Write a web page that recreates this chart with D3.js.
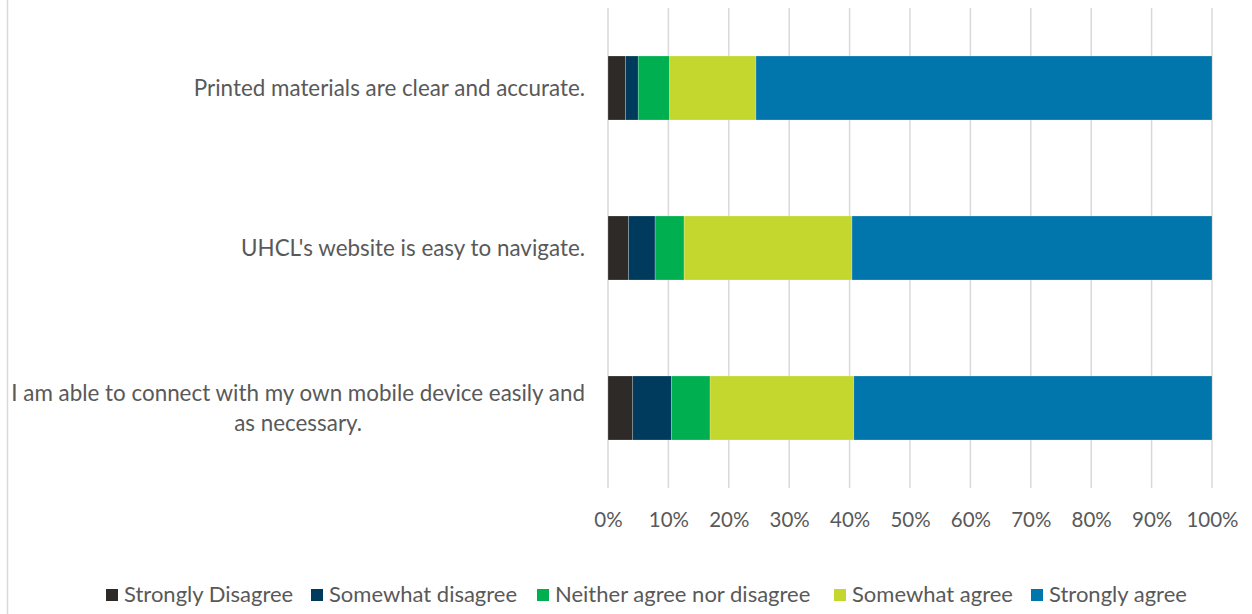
<!DOCTYPE html>
<html>
<head>
<meta charset="utf-8">
<script src="https://cdn.jsdelivr.net/npm/d3@7"></script>
<style>
  html, body { margin: 0; padding: 0; background: #fff; }
  svg { display: block; }
  text { font-family: Lato, "Open Sans", sans-serif; fill: #595959; }
</style>
</head>
<body>
<svg id="chart" width="1252" height="614"></svg>
<script>
// Survey statements, top to bottom
const categories = [
  "Printed materials are clear and accurate.",
  "UHCL's website is easy to navigate.",
  "I am able to connect with my own mobile device easily and as necessary."
];

// Response levels (stack order, left to right)
const responses = [
  "Strongly Disagree",
  "Somewhat disagree",
  "Neither agree nor disagree",
  "Somewhat agree",
  "Strongly agree"
];

// Percent of respondents per statement, one array per response level
const stronglyDisagree = [2.9, 3.4, 4.1];
const somewhatDisagree = [2.1, 4.4, 6.4];
const neitherAgree     = [5.2, 4.8, 6.4];
const somewhatAgree    = [14.3, 27.8, 23.8];
const stronglyAgree    = [75.5, 59.6, 59.3];

const tickValues = [0, 10, 20, 30, 40, 50, 60, 70, 80, 90, 100];

const colors = ["#2e2a27", "#003a5d", "#00b050", "#c3d72e", "#0076ad"];

const seriesValues = [stronglyDisagree, somewhatDisagree, neitherAgree, somewhatAgree, stronglyAgree];

const rows = categories.map((c, i) => {
  const r = { category: c };
  responses.forEach((k, j) => { r[k] = seriesValues[j][i]; });
  return r;
});

const stacked = d3.stack().keys(responses)(rows);

const svg = d3.select("#chart");
const labelFont = "22.4px";
const legendFont = "22px";

// outer chart border (left edge)
svg.append("line")
  .attr("x1", 7.5).attr("x2", 7.5)
  .attr("y1", 0).attr("y2", 614)
  .attr("stroke", "#d9d9d9").attr("stroke-width", 1.5);

const plot = { left: 608, right: 1212, top: 8, bottom: 488 };

const x = d3.scaleLinear().domain([0, 100]).range([plot.left, plot.right]);
const y = d3.scaleBand().domain(categories)
  .range([plot.top, plot.bottom])
  .paddingInner(0.6).paddingOuter(0.3);

// vertical gridlines
svg.append("g")
  .selectAll("line")
  .data(tickValues)
  .join("line")
  .attr("x1", d => x(d)).attr("x2", d => x(d))
  .attr("y1", plot.top).attr("y2", plot.bottom)
  .attr("stroke", "#d9d9d9").attr("stroke-width", 1.5);

// stacked bars
svg.append("g")
  .selectAll("g")
  .data(stacked)
  .join("g")
  .attr("fill", (d, i) => colors[i])
  .selectAll("rect")
  .data(d => d)
  .join("rect")
  .attr("x", d => x(d[0]))
  .attr("width", d => x(d[1]) - x(d[0]))
  .attr("y", d => y(d.data.category))
  .attr("height", y.bandwidth())
  .attr("stroke", "#ffffff")
  .attr("stroke-opacity", 0.35)
  .attr("stroke-width", 0.6);

// x axis tick labels
const xAxis = d3.axisBottom(x)
  .tickValues(tickValues)
  .tickSize(0)
  .tickPadding(0)
  .tickFormat(d => d + "%");

const gx = svg.append("g")
  .attr("transform", `translate(0, ${plot.bottom})`)
  .call(xAxis);
gx.select(".domain").remove();
gx.selectAll("text")
  .attr("y", 0)
  .attr("dy", 0)
  .attr("transform", "translate(0, 39)")
  .style("font-family", "Lato, 'Open Sans', sans-serif")
  .style("font-size", "20.5px")
  .attr("fill", "#595959");

// category labels (wrapped to fit the label column)
const labelRight = 585;
const labelWidth = 585;
const lineHeight = 30;
const catG = svg.append("g");
const measure = s => {
  const p = svg.append("text").style("font-size", labelFont).text(s);
  const w = p.node().getComputedTextLength();
  p.remove();
  return w;
};
categories.forEach(c => {
  const words = c.split(" ");
  const lines = [];
  let cur = [];
  words.forEach(w => {
    const test = cur.concat([w]).join(" ");
    if (measure(test) > labelWidth && cur.length) {
      lines.push(cur.join(" "));
      cur = [w];
    } else {
      cur.push(w);
    }
  });
  lines.push(cur.join(" "));

  // widest line sets the horizontal centre so the block is right-aligned
  const maxW = d3.max(lines, measure);
  const cx = labelRight - maxW / 2;
  const cy = y(c) + y.bandwidth() / 2;
  const firstBaseline = cy + 7.5 - (lines.length - 1) * lineHeight / 2;
  const t = catG.append("text")
    .attr("text-anchor", "middle")
    .style("font-size", labelFont);
  lines.forEach((l, i) => {
    t.append("tspan")
      .attr("x", cx)
      .attr("y", firstBaseline + i * lineHeight)
      .text(l);
  });
});

// legend
const legendItems = [
  { key: responses[0], x: 106 },
  { key: responses[1], x: 311 },
  { key: responses[2], x: 537 },
  { key: responses[3], x: 834 },
  { key: responses[4], x: 1031 }
];
const legend = svg.append("g");
legendItems.forEach((d, i) => {
  legend.append("rect")
    .attr("x", d.x).attr("y", 589)
    .attr("width", 12).attr("height", 12)
    .attr("fill", colors[i]);
  legend.append("text")
    .attr("x", d.x + 18).attr("y", 602)
    .style("font-size", legendFont)
    .text(d.key);
});
</script>
</body>
</html>
